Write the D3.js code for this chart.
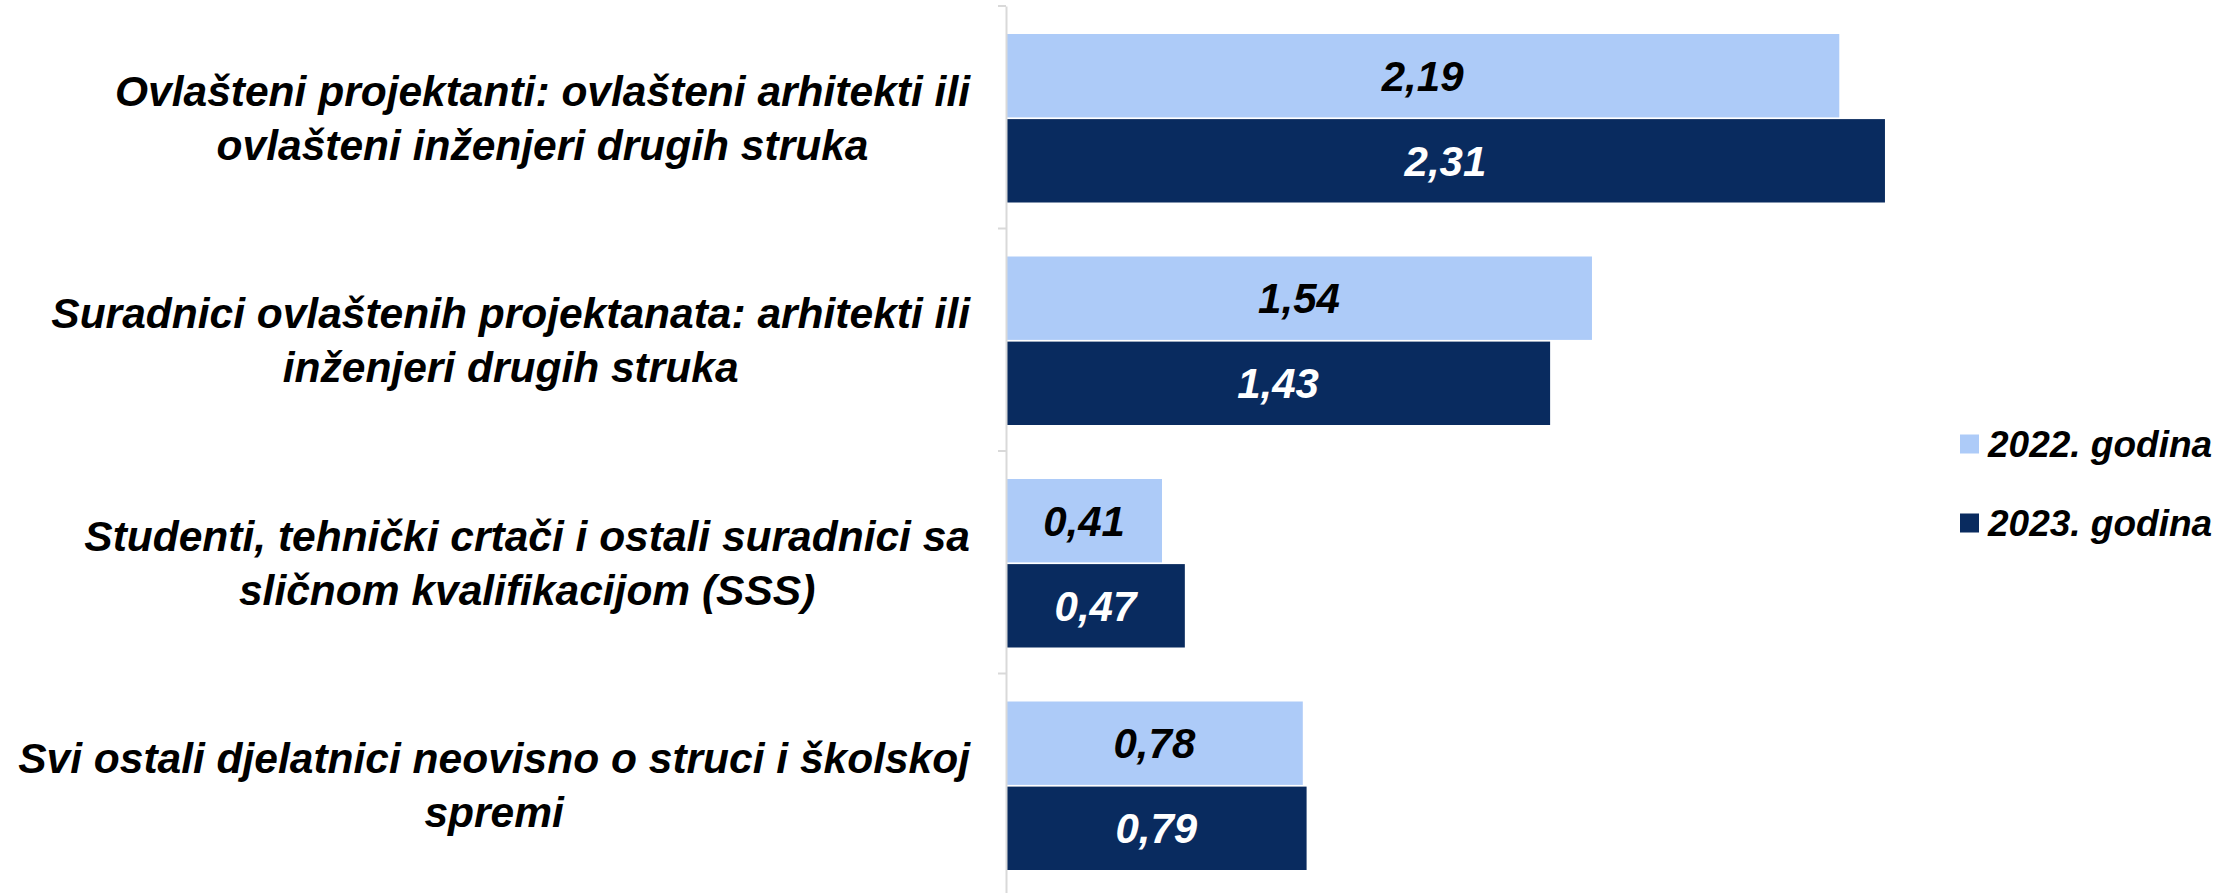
<!DOCTYPE html>
<html>
<head>
<meta charset="utf-8">
<script src="https://cdn.jsdelivr.net/npm/d3@7"></script>
<style>
  body { margin: 0; background: #fff; }
  text { font-family: "Liberation Sans", Arial, sans-serif; font-weight: bold; font-style: italic; }
</style>
</head>
<body>
<svg width="2236" height="893"></svg>
<script>
// categories, each split into its display lines
const categories = [
    ["Ovlašteni projektanti: ovlašteni arhitekti ili", "ovlašteni inženjeri drugih struka"],
    ["Suradnici ovlaštenih projektanata: arhitekti ili", "inženjeri drugih struka"],
    ["Studenti, tehnički crtači i ostali suradnici sa", "sličnom kvalifikacijom (SSS)"],
    ["Svi ostali djelatnici neovisno o struci i školskoj", "spremi"]
];
const series = ["2022. godina", "2023. godina"];
const values2022 = [2.19, 1.54, 0.41, 0.78];
const values2023 = [2.31, 1.43, 0.47, 0.79];
const colors = ["#adcbf8", "#092b5f"];

var svg = d3.select("svg");

var x = d3.scaleLinear()
    .domain([0, 2.5])
    .range([1006, 1006 + 2.5 * 380.5]);

var y = d3.scaleBand()
    .domain(d3.range(categories.length))
    .range([6, 896]);

var ySub = d3.scaleBand()
    .domain(series)
    .range([28, y.bandwidth() - 26])
    .paddingInner(0.02);

var fmt = v => d3.format(".2f")(v).replace(".", ",");

var rows = categories.map((c, i) => ({
    idx: i,
    lines: c,
    vals: [values2022[i], values2023[i]]
}));

// bars
var groups = svg.selectAll(".grp")
    .data(rows)
    .enter().append("g")
    .attr("class", "grp")
    .attr("transform", d => `translate(0,${y(d.idx)})`);

groups.selectAll("rect")
    .data(d => d.vals.map((v, j) => ({ v: v, s: series[j], j: j })))
    .enter().append("rect")
    .attr("x", x(0))
    .attr("y", d => ySub(d.s))
    .attr("width", d => x(d.v) - x(0))
    .attr("height", ySub.bandwidth())
    .attr("fill", d => colors[d.j]);

groups.selectAll(".val")
    .data(d => d.vals.map((v, j) => ({ v: v, s: series[j], j: j })))
    .enter().append("text")
    .attr("class", "val")
    .attr("x", d => (x(0) + x(d.v)) / 2)
    .attr("y", d => ySub(d.s) + ySub.bandwidth() / 2)
    .attr("dy", "0.36em")
    .attr("text-anchor", "middle")
    .attr("font-size", 42)
    .attr("fill", d => d.j === 0 ? "#000" : "#fff")
    .text(d => fmt(d.v));

// axis line with category ticks
var axis = d3.axisLeft(y)
    .tickValues([])
    .tickSizeOuter(0);
var axisG = svg.append("g")
    .attr("transform", `translate(${x(0)},0)`)
    .call(axis);
axisG.select(".domain").attr("stroke", "#d9d9d9").attr("stroke-width", 2);
axisG.selectAll(".sep")
    .data(d3.range(categories.length))
    .enter().append("line")
    .attr("class", "sep")
    .attr("x1", -8).attr("x2", 0)
    .attr("y1", d => y(d)).attr("y2", d => y(d))
    .attr("stroke", "#d9d9d9")
    .attr("stroke-width", 2);

// category labels: lines centred inside a box right-aligned at 970
var labelRight = 970;
var labels = svg.selectAll(".cat")
    .data(rows)
    .enter().append("text")
    .attr("class", "cat")
    .attr("font-size", 42.5)
    .attr("text-anchor", "middle")
    .attr("fill", "#000");

labels.each(function(d) {
    var t = d3.select(this);
    var cy = y(d.idx) + y.bandwidth() / 2;
    var n = d.lines.length;
    var spans = t.selectAll("tspan")
        .data(d.lines)
        .enter().append("tspan")
        .attr("y", (l, k) => cy + (k - (n - 1) / 2) * 54)
        .attr("dy", "0.36em")
        .text(l => l);
    var maxW = d3.max(spans.nodes(), s => s.getComputedTextLength());
    spans.attr("x", labelRight - maxW / 2);
});

// legend
var legend = svg.selectAll(".leg")
    .data(series)
    .enter().append("g")
    .attr("class", "leg")
    .attr("transform", (d, i) => `translate(1960,${444 + i * 79})`);

legend.append("rect")
    .attr("x", 0).attr("y", -9.5)
    .attr("width", 19).attr("height", 19)
    .attr("fill", (d, i) => colors[i]);

legend.append("text")
    .attr("x", 28)
    .attr("dy", "0.36em")
    .attr("font-size", 37)
    .text(d => d);
</script>
</body>
</html>
